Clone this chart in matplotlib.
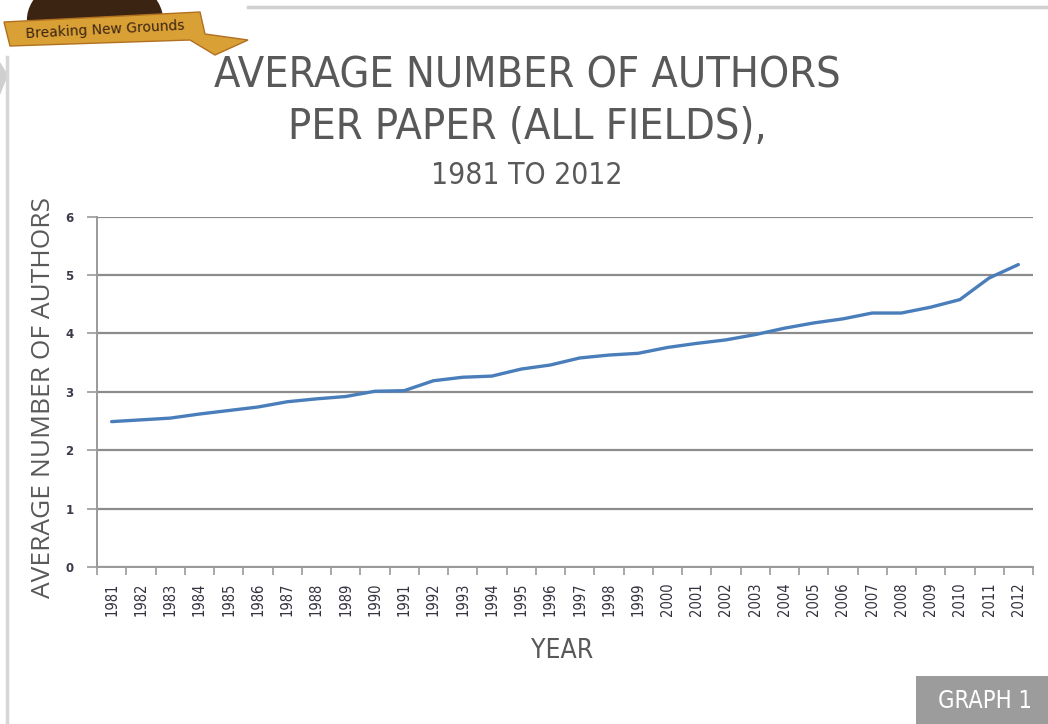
import matplotlib
matplotlib.use("Agg")
import matplotlib.pyplot as plt
from matplotlib.patches import Rectangle, Polygon, Wedge
from matplotlib.lines import Line2D

years = [str(y) for y in range(1981, 2013)]
avg_authors = [2.49, 2.52, 2.55, 2.62, 2.68, 2.74, 2.83, 2.88, 2.92, 3.01,
               3.02, 3.19, 3.25, 3.27, 3.39, 3.46, 3.58, 3.63, 3.66, 3.76,
               3.83, 3.89, 3.98, 4.09, 4.18, 4.25, 4.35, 4.35, 4.45, 4.58,
               4.95, 5.18]
y_ticks = [0, 1, 2, 3, 4, 5, 6]

W, H = 1048, 724
fig = plt.figure(figsize=(W / 100, H / 100), dpi=100)
fig.patch.set_facecolor("white")

def fx(px):
    return px / W

def fy(py):
    return 1 - py / H

narrow = dict(family="DejaVu Sans", stretch="condensed")
text_grey = "#595959"

ax = fig.add_axes([fx(97), fy(567), fx(1033) - fx(97), fy(216.7) - fy(567)])
x = list(range(len(years)))
ax.plot(x, avg_authors, color="#4A7EBB", lw=2.4, solid_capstyle="round", zorder=3)

ax.set_xlim(-0.5, len(years) - 0.5)
ax.set_ylim(0, 6)
ax.set_yticks(y_ticks)
ax.set_yticklabels([str(v) for v in y_ticks], fontsize=8.5, fontweight="bold",
                   color="#3a3a4a", family="DejaVu Sans")
ax.set_xticks(x)
ax.set_xticklabels(years, rotation=90, fontsize=10.5, color="#333340",
                   family="DejaVu Sans", stretch="condensed")
ax.set_xticks([i - 0.5 for i in range(len(years) + 1)], minor=True)
ax.tick_params(axis="x", which="major", length=0, pad=11)
ax.tick_params(axis="x", which="minor", length=6, color="#9a9a9a", width=1.2,
               direction="out")
ax.tick_params(axis="y", which="major", length=7, color="#9a9a9a", width=1.2,
               pad=10)
ax.grid(axis="y", color="#8c8c8c", lw=1.6, zorder=1)
for side in ("top", "right"):
    ax.spines[side].set_visible(False)
for side in ("left", "bottom"):
    ax.spines[side].set_color("#9a9a9a")
    ax.spines[side].set_linewidth(1.4)

# Axis titles
fig.text(fx(44), fy(397), "AVERAGE NUMBER OF AUTHORS", rotation=90,
         fontsize=19, color=text_grey, family="Open Sans",
         ha="center", va="center")
fig.text(fx(562), fy(651), "YEAR", fontsize=19, color=text_grey,
         ha="center", va="center", **narrow)

# Titles
fig.text(fx(527), fy(75), "AVERAGE NUMBER OF AUTHORS", fontsize=31,
         color=text_grey, ha="center", va="center", **narrow)
fig.text(fx(527), fy(127), "PER PAPER (ALL FIELDS),", fontsize=31,
         color=text_grey, ha="center", va="center", **narrow)
fig.text(fx(527), fy(176), "1981 TO 2012", fontsize=21.5,
         color=text_grey, ha="center", va="center", **narrow)

# Frame lines
fig.add_artist(Line2D([fx(248), 1], [fy(7), fy(7)], color="#d0d0d0", lw=2.5))
fig.add_artist(Line2D([fx(7), fx(7)], [fy(57), 0], color="#d6d6d6", lw=2.5))
fig.add_artist(Polygon([(0, fy(62)), (fx(8), fy(75)), (0, fy(95))],
                       closed=True, facecolor="#cfcfcf", edgecolor="none"))

# Graph badge
fig.add_artist(Rectangle((fx(916), 0), 1 - fx(916), fy(676), facecolor="#9c9c9c",
                         edgecolor="none"))
fig.text(fx(985), fy(701), "GRAPH 1", fontsize=17, color="white",
         ha="center", va="center", **narrow)

# Banner emblem
fig.add_artist(Wedge((fx(95), fy(20)), 0.065, 0, 180, facecolor="#3b2412",
                     edgecolor="none", transform=fig.transFigure))
fig.add_artist(Polygon([(fx(4), fy(22)), (fx(200), fy(12)), (fx(205), fy(34)),
                        (fx(248), fy(40)), (fx(215), fy(55)), (fx(190), fy(40)),
                        (fx(10), fy(46))],
                       closed=True, facecolor="#d9a035", edgecolor="#b07020", lw=1))
fig.text(fx(105), fy(30), "Breaking New Grounds", fontsize=10, color="#3b2412",
         family="DejaVu Sans", ha="center", va="center", rotation=3)

fig.savefig("out.png", dpi=100, facecolor="white")
